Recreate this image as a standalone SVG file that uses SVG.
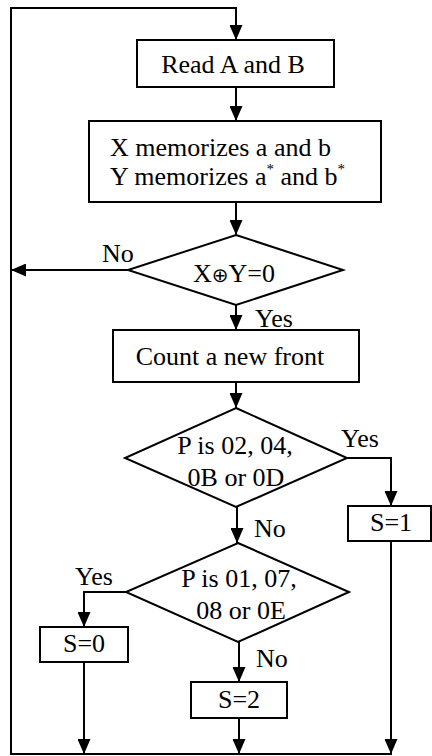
<svg xmlns="http://www.w3.org/2000/svg" width="432" height="756" viewBox="0 0 432 756" font-family="Liberation Serif, serif" font-size="26">
<style>
.s{fill:#fff;stroke:#000;stroke-width:2}
.c{fill:none;stroke:#000;stroke-width:2}
</style>
<defs>
<marker id="ah" viewBox="0 0 15 13" refX="15" refY="6.5" markerWidth="15" markerHeight="13" markerUnits="userSpaceOnUse" orient="auto">
<path d="M0,0 L15,6.5 L0,13 Z" fill="#000"/>
</marker>
</defs>
<rect width="432" height="756" fill="#fff"/>
<g id="connectors">
<path class="c" d="M11,754 L11,8 L236,8 L236,40" marker-end="url(#ah)"/>
<path class="c" d="M236,87 L236,121" marker-end="url(#ah)"/>
<path class="c" d="M236,202 L236,235" marker-end="url(#ah)"/>
<path class="c" d="M128,270 L11,270" marker-end="url(#ah)"/>
<path class="c" d="M236,305 L236,330" marker-end="url(#ah)"/>
<path class="c" d="M236,382 L236,408" marker-end="url(#ah)"/>
<path class="c" d="M347,458 L391,458 L391,506" marker-end="url(#ah)"/>
<path class="c" d="M237,507 L237,543" marker-end="url(#ah)"/>
<path class="c" d="M126,592 L84,592 L84,627" marker-end="url(#ah)"/>
<path class="c" d="M239,642 L239,682" marker-end="url(#ah)"/>
<path class="c" d="M84,662 L84,754" marker-end="url(#ah)"/>
<path class="c" d="M239,718 L239,754" marker-end="url(#ah)"/>
<path class="c" d="M391,541 L391,754" marker-end="url(#ah)"/>
<path class="c" d="M10,754 L392,754"/>
<text x="102" y="262">No</text>
<text x="255" y="327">Yes</text>
<text x="341" y="447">Yes</text>
<text x="254" y="537">No</text>
<text x="75" y="585">Yes</text>
<text x="256" y="667">No</text>
</g>
<g id="read">
<rect class="s" x="137" y="40" width="197" height="47"/>
<text x="233" y="73" text-anchor="middle">Read A and B</text>
</g>
<g id="memorize">
<rect class="s" x="89" y="121" width="292" height="81"/>
<text x="110" y="156">X memorizes a and b</text>
<text x="110" y="185">Y memorizes a<tspan dy="-11" font-size="15">*</tspan><tspan dy="11"> and b</tspan><tspan dy="-11" font-size="15">*</tspan></text>
</g>
<g id="xor">
<polygon class="s" points="236,235 343,270 236,305 128,270"/>
<text x="234" y="282" text-anchor="middle">X<tspan font-family="DejaVu Sans" font-size="20">⊕</tspan>Y=0</text>
</g>
<g id="count">
<rect class="s" x="113" y="330" width="246" height="52"/>
<text x="230" y="365" text-anchor="middle">Count a new front</text>
</g>
<g id="p1">
<polygon class="s" points="236,408 347,458 236,507 125,458"/>
<text x="235" y="454" text-anchor="middle">P is 02, 04,</text>
<text x="236" y="486" text-anchor="middle">0B or 0D</text>
</g>
<g id="s1">
<rect class="s" x="348" y="506" width="83" height="35"/>
<text x="391" y="531" text-anchor="middle">S=1</text>
</g>
<g id="p2">
<polygon class="s" points="238,543 349,592 238,642 126,592"/>
<text x="239" y="587" text-anchor="middle">P is 01, 07,</text>
<text x="241" y="619" text-anchor="middle">08 or 0E</text>
</g>
<g id="s0">
<rect class="s" x="40" y="627" width="88" height="35"/>
<text x="84" y="652" text-anchor="middle">S=0</text>
</g>
<g id="s2">
<rect class="s" x="191" y="682" width="96" height="36"/>
<text x="239" y="708" text-anchor="middle">S=2</text>
</g>
</svg>
